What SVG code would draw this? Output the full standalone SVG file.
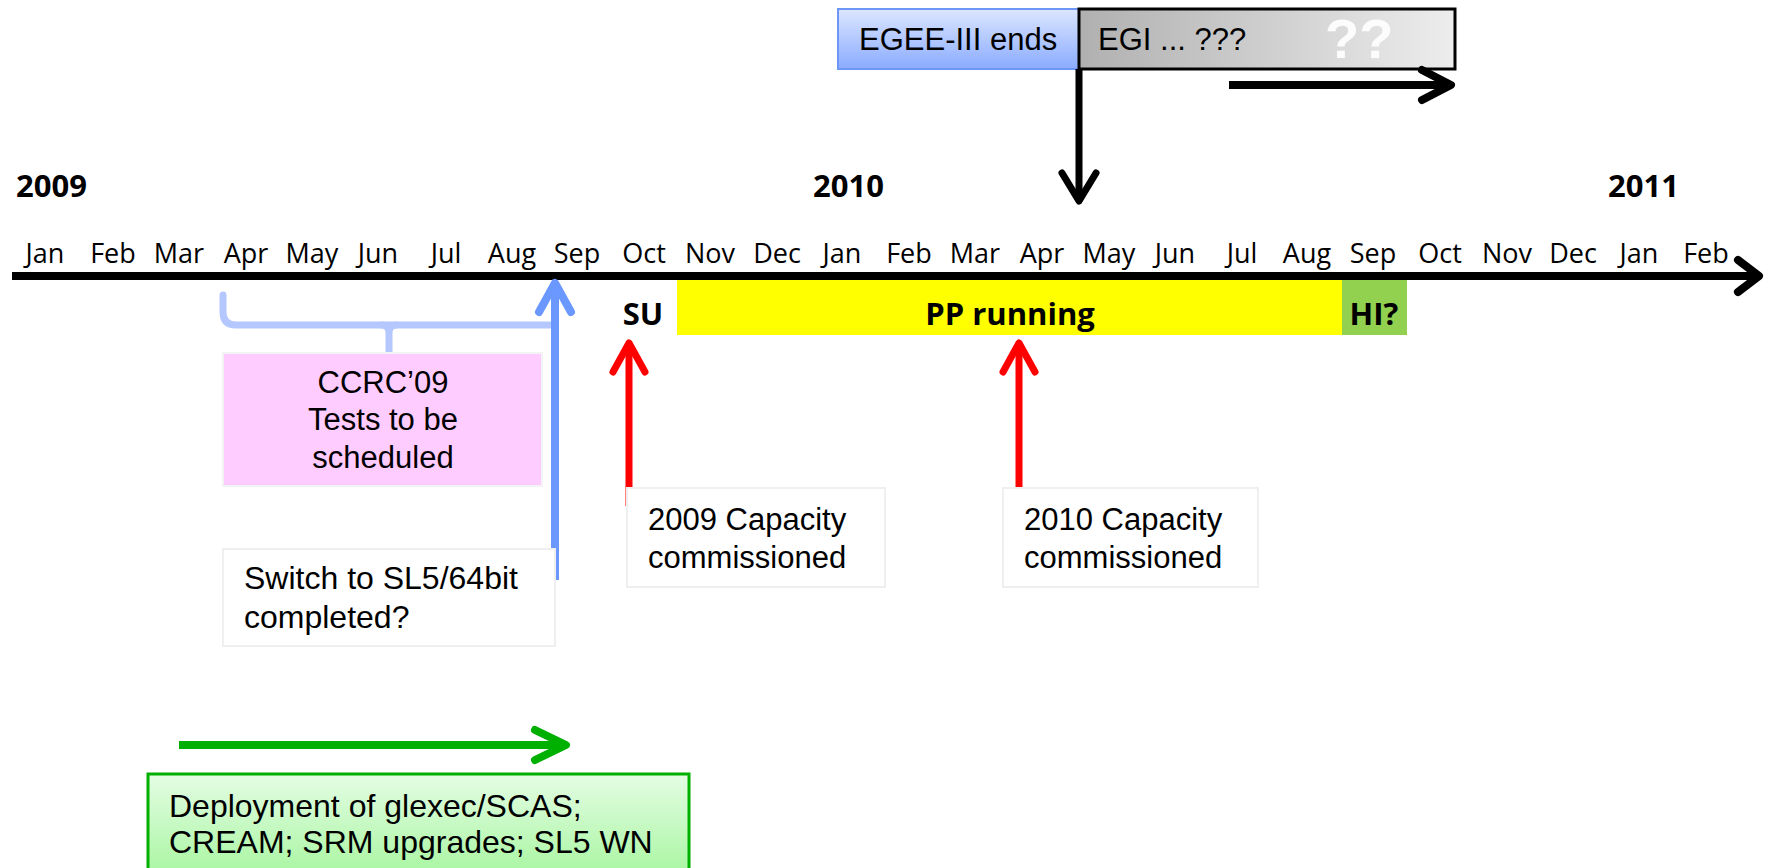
<svg xmlns="http://www.w3.org/2000/svg" width="1765" height="868" viewBox="0 0 1765 868">
  <defs>
    <linearGradient id="gradEgee" x1="0" y1="0" x2="0" y2="1">
      <stop offset="0" stop-color="#dce6ff"/>
      <stop offset="1" stop-color="#8aabff"/>
    </linearGradient>
    <linearGradient id="gradEgi" x1="0" y1="0" x2="1" y2="0">
      <stop offset="0" stop-color="#b0b0b0"/>
      <stop offset="1" stop-color="#ededed"/>
    </linearGradient>
    <linearGradient id="gradDeploy" x1="0" y1="0" x2="0" y2="1">
      <stop offset="0" stop-color="#e4fde4"/>
      <stop offset="1" stop-color="#a4f59c"/>
    </linearGradient>
    <style>
      .month { font-family: "Open Sans", "DejaVu Sans", sans-serif; font-size: 27px; fill: #000; text-anchor: middle; }
      .year { font-family: "Open Sans", "DejaVu Sans", sans-serif; font-size: 31px; font-weight: bold; fill: #000; }
      .phase { font-family: "Open Sans", "DejaVu Sans", sans-serif; font-size: 31px; font-weight: bold; fill: #000; text-anchor: middle; }
      .label { font-family: "Liberation Sans", Arial, sans-serif; font-size: 31px; fill: #000; }
      .big { font-size: 32px; }
      .box { fill: #ffffff; stroke: #efefef; stroke-width: 2; }
      .arrow { fill: none; stroke-linecap: round; stroke-linejoin: round; }
    </style>
  </defs>

  <!-- Project phase header -->
  <g id="egee-ends">
    <rect x="838" y="9" width="241" height="60" fill="url(#gradEgee)" stroke="#6d96f7" stroke-width="2"/>
    <text class="label" x="859" y="50">EGEE-III ends</text>
  </g>
  <g id="egi">
    <rect x="1079" y="9" width="376" height="60" fill="url(#gradEgi)" stroke="#000" stroke-width="3"/>
    <text class="label" x="1098" y="50">EGI ... ???</text>
    <text x="1325" y="58" font-family="Liberation Sans, Arial, sans-serif" font-size="56" font-weight="bold" fill="#ffffff" fill-opacity="0.9">??</text>
  </g>

  <!-- Year labels -->
  <g id="years">
    <text class="year" x="16" y="197">2009</text>
    <text class="year" x="813" y="197">2010</text>
    <text class="year" x="1608" y="197">2011</text>
  </g>

  <!-- Phase bars below the axis -->
  <g id="pp-running">
    <rect x="677" y="279" width="665" height="56" fill="#ffff00"/>
    <text class="phase" x="1010" y="325">PP running</text>
  </g>
  <g id="hi">
    <rect x="1342" y="279" width="65" height="56" fill="#92d050"/>
    <text class="phase" x="1374" y="325">HI?</text>
  </g>
  <g id="su">
    <text class="phase" x="643" y="325">SU</text>
  </g>

  <!-- Time axis with month ticks -->
  <g id="axis">
    <line x1="12" y1="276" x2="1758" y2="276" stroke="#000" stroke-width="8"/>
    <polyline class="arrow" points="1738,260 1759,276 1738,292" stroke="#000" stroke-width="8"/>
    <text class="month" x="45" y="263">Jan</text>
    <text class="month" x="113" y="263">Feb</text>
    <text class="month" x="179" y="263">Mar</text>
    <text class="month" x="246" y="263">Apr</text>
    <text class="month" x="312" y="263">May</text>
    <text class="month" x="378" y="263">Jun</text>
    <text class="month" x="446" y="263">Jul</text>
    <text class="month" x="512" y="263">Aug</text>
    <text class="month" x="577" y="263">Sep</text>
    <text class="month" x="644" y="263">Oct</text>
    <text class="month" x="710" y="263">Nov</text>
    <text class="month" x="777" y="263">Dec</text>
    <text class="month" x="842" y="263">Jan</text>
    <text class="month" x="909" y="263">Feb</text>
    <text class="month" x="975" y="263">Mar</text>
    <text class="month" x="1042" y="263">Apr</text>
    <text class="month" x="1109" y="263">May</text>
    <text class="month" x="1175" y="263">Jun</text>
    <text class="month" x="1242" y="263">Jul</text>
    <text class="month" x="1307" y="263">Aug</text>
    <text class="month" x="1373" y="263">Sep</text>
    <text class="month" x="1440" y="263">Oct</text>
    <text class="month" x="1507" y="263">Nov</text>
    <text class="month" x="1573" y="263">Dec</text>
    <text class="month" x="1639" y="263">Jan</text>
    <text class="month" x="1706" y="263">Feb</text>
  </g>

  <!-- Connectors -->
  <g id="connectors">
    <!-- EGEE-III end marker -->
    <line x1="1079" y1="69" x2="1079" y2="199" stroke="#000" stroke-width="7"/>
    <polyline class="arrow" points="1062,173 1079,201 1096,173" stroke="#000" stroke-width="7"/>
    <!-- EGI continuation -->
    <line x1="1229" y1="85" x2="1449" y2="85" stroke="#000" stroke-width="8"/>
    <polyline class="arrow" points="1422,70 1451,85 1422,100" stroke="#000" stroke-width="8"/>
    <!-- CCRC'09 brace -->
    <path class="arrow" d="M223,295 L223,312 Q223,325 236,325 L550,325" stroke="#b4c7fe" stroke-width="7"/>
    <path d="M382,325 Q389,325 389,333 L389,356 M396,325 Q389,325 389,333" class="arrow" stroke="#b4c7fe" stroke-width="7"/>
    <!-- SL5 switch -->
    <line x1="555" y1="580" x2="555" y2="285" stroke="#6b98ff" stroke-width="8"/>
    <polyline class="arrow" points="539,312 555,283 571,312" stroke="#6b98ff" stroke-width="8"/>
    <!-- 2009 capacity -->
    <line x1="629" y1="506" x2="629" y2="345" stroke="#ff0000" stroke-width="7"/>
    <polyline class="arrow" points="613,372 629,343 645,372" stroke="#ff0000" stroke-width="7"/>
    <!-- 2010 capacity -->
    <line x1="1019" y1="488" x2="1019" y2="345" stroke="#ff0000" stroke-width="7"/>
    <polyline class="arrow" points="1003,372 1019,343 1035,372" stroke="#ff0000" stroke-width="7"/>
    <!-- Middleware deployment -->
    <line x1="179" y1="745" x2="564" y2="745" stroke="#00b000" stroke-width="8"/>
    <polyline class="arrow" points="535,730 566,745 535,760" stroke="#00b000" stroke-width="8"/>
  </g>

  <!-- Annotation boxes -->
  <g id="ccrc">
    <rect x="223" y="353" width="319" height="133" fill="#ffccff" stroke="#f3f3f3" stroke-width="2"/>
    <text class="label" x="383" y="393" text-anchor="middle">CCRC’09</text>
    <text class="label" x="383" y="430" text-anchor="middle">Tests to be</text>
    <text class="label" x="383" y="468" text-anchor="middle">scheduled</text>
  </g>
  <g id="sl5-switch">
    <rect class="box" x="223" y="549" width="332" height="97"/>
    <text class="label big" x="244" y="589">Switch to SL5/64bit</text>
    <text class="label big" x="244" y="628">completed?</text>
  </g>
  <g id="capacity-2009">
    <rect class="box" x="627" y="488" width="258" height="99"/>
    <text class="label" x="648" y="530">2009 Capacity</text>
    <text class="label" x="648" y="568">commissioned</text>
  </g>
  <g id="capacity-2010">
    <rect class="box" x="1003" y="488" width="255" height="99"/>
    <text class="label" x="1024" y="530">2010 Capacity</text>
    <text class="label" x="1024" y="568">commissioned</text>
  </g>
  <g id="deployment">
    <rect x="148" y="774" width="541" height="110" fill="url(#gradDeploy)" stroke="#00b000" stroke-width="3"/>
    <text class="label big" x="169" y="817">Deployment of glexec/SCAS;</text>
    <text class="label big" x="169" y="853">CREAM; SRM upgrades; SL5 WN</text>
  </g>
</svg>
